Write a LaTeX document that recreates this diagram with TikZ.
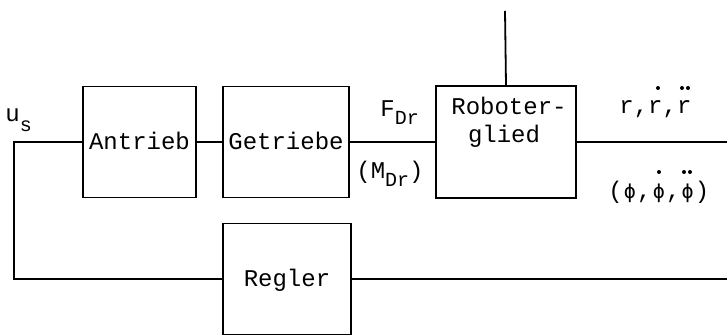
\documentclass[tikz,border=0pt]{standalone}
\usepackage{fontspec}
\newfontfamily\plotmono{Liberation Mono}
\newfontfamily\dvmono{DejaVu Sans Mono}
\newcommand\plotphi{\makebox[7.2pt]{\dvmono\fontsize{10}{10}\selectfont ϕ}}
\begin{document}
\begin{tikzpicture}[x=0.5pt,y=-0.5pt,
  blk/.style={draw, line width=0.9pt, inner sep=0pt,
    font=\plotmono\fontsize{12}{12}\selectfont, text height=7.8pt, text depth=0pt},
  txt/.style={inner sep=0pt, font=\plotmono\fontsize{12}{12}\selectfont},
  wire/.style={line width=0.9pt},
  dotmark/.style={fill=black}]
\useasboundingbox (0,0) rectangle (727,335);
% blocks
\node[blk, minimum width=56.5pt, minimum height=55.5pt] (antrieb) at (139.5,142) {Antrieb};
\node[blk, minimum width=63pt, minimum height=55.5pt] (getriebe) at (286,142) {Getriebe};
\node[blk, minimum width=70pt, minimum height=56pt] (robot) at (506,142) {};
\node[blk, minimum width=64pt, minimum height=55.5pt] (regler) at (287,279) {Regler};
\node[txt, anchor=base] (robA) at (509,115) {Roboter-};
\node[txt, anchor=base] (robB) at (504,143) {glied};
% labels
\node[txt, anchor=base west] (us) at (5,122) {u\raisebox{-5pt}{\fontsize{10}{10}\selectfont s}};
\node[txt, anchor=base west] (fdr) at (380,117) {F\raisebox{-4pt}{\fontsize{10}{10}\selectfont Dr}};
\node[txt, anchor=base west] (mdr) at (356,179) {(M\raisebox{-4pt}{\fontsize{10}{10}\selectfont Dr})};
\node[txt, anchor=base west] (rr) at (619,114) {r,r,r};
\node[txt, anchor=base west] (phi) at (608,199) {(\plotphi,\plotphi,\plotphi)};
\fill[dotmark] (658,88) circle (2);
\fill[dotmark] (682,88) circle (2);
\fill[dotmark] (688,88) circle (2);
\fill[dotmark] (659,172) circle (2);
\fill[dotmark] (684,172) circle (2);
\fill[dotmark] (690,172) circle (2);
% wires
\coordinate (top) at (505,11);
\coordinate (left) at (14,142);
\coordinate (out1) at (727,142);
\coordinate (out2) at (727,279);
\draw[wire] (robot.north) -- (top);
\draw[wire] (antrieb.west) -- (left) |- (regler.west);
\draw[wire] (antrieb.east) -- (getriebe.west);
\draw[wire] (getriebe.east) -- (robot.west);
\draw[wire] (robot.east) -- (out1);
\draw[wire] (regler.east) -- (out2);
\end{tikzpicture}
\end{document}
